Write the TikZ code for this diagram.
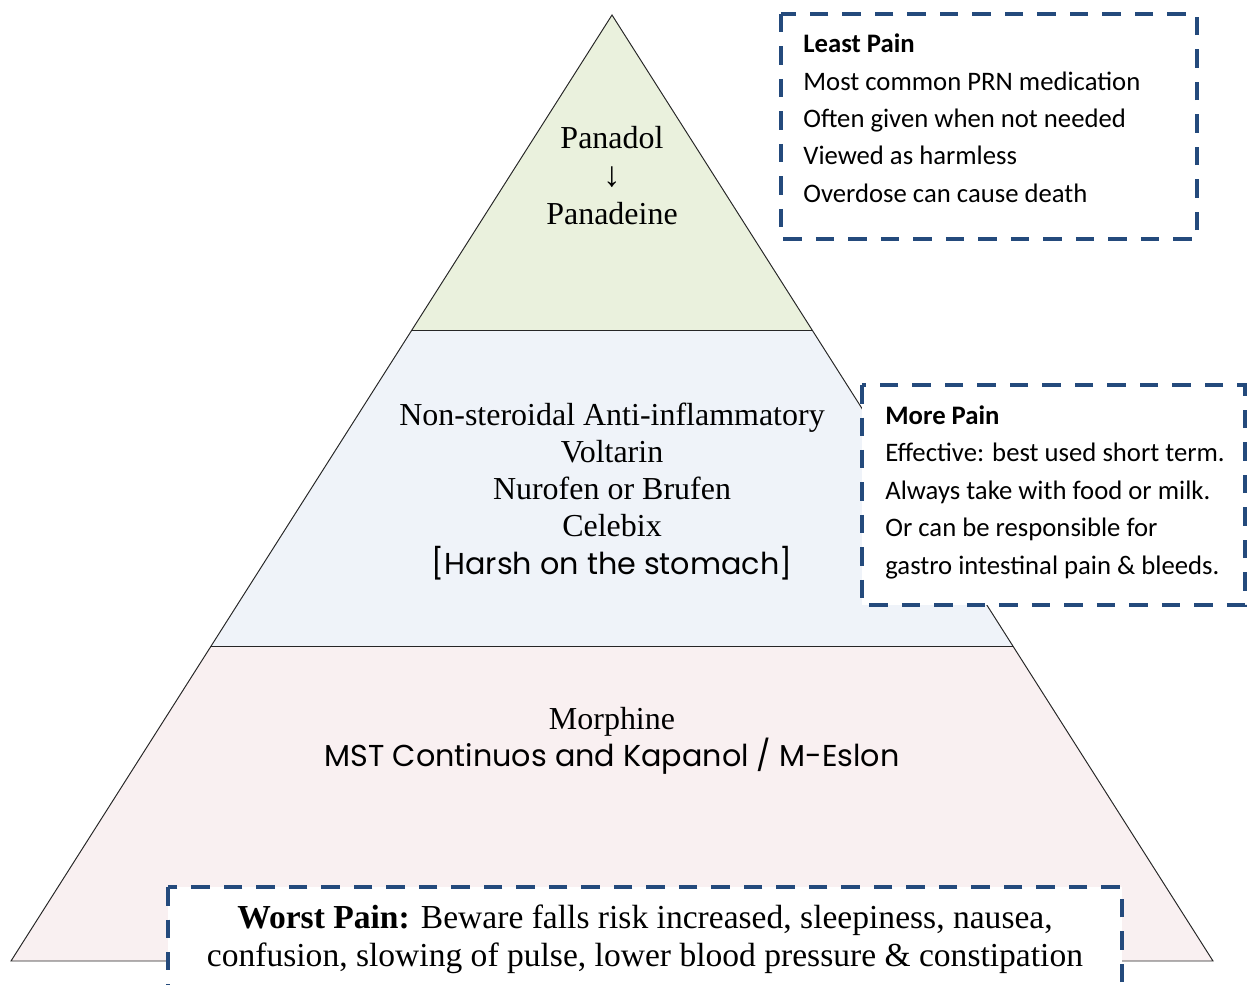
\documentclass[tikz,border=0pt]{standalone}
\usepackage{fontspec}
\setmainfont{Liberation Serif}
\newfontfamily\calibrifont{Carlito}
\newfontfamily\gothicfont{Poppins}
\definecolor{boxblue}{RGB}{36,74,124}
\definecolor{leastfill}{RGB}{234,241,221}
\definecolor{morefill}{RGB}{239,243,249}
\definecolor{worstfill}{RGB}{249,240,241}
\tikzset{
  edgeline/.style={line width=0.55pt, draw=black!85},
  painbox/.style={line width=2.2pt, draw=boxblue, fill=white, dash pattern=on 0.37cm off 0.28cm},
  drugtext/.style={anchor=mid, inner sep=0pt, font=\fontsize{18.2}{22}\selectfont},
  gothictext/.style={anchor=mid, inner sep=0pt, font=\gothicfont\fontsize{17.2}{21}\selectfont},
  notetext/.style={anchor=mid west, inner sep=0pt, font=\calibrifont\fontsize{15.2}{19}\selectfont},
  worsttext/.style={anchor=mid, inner sep=0pt, font=\fontsize{19.1}{23}\selectfont}
}
\begin{document}
\begin{tikzpicture}[x=0.02cm,y=-0.02cm]
                \useasboundingbox (0,0) rectangle (1247,984);
                \clip (0,0) rectangle (1247,984);

                % Corner points of the pyramid
                \coordinate (apex) at (612,15);
                \coordinate (upperleft) at (412,330);
                \coordinate (upperright) at (812,330);
                \coordinate (lowerleft) at (211,646);
                \coordinate (lowerright) at (1013,646);
                \coordinate (baseleft) at (11,961);
                \coordinate (baseright) at (1213,961);

                % Filling the three bands
                \fill [leastfill] (apex) -- (upperright) -- (upperleft) -- cycle;%
                \fill [morefill] (upperleft) -- (upperright) -- (lowerright) -- (lowerleft) -- cycle;%
                \fill [worstfill] (lowerleft) -- (lowerright) -- (baseright) -- (baseleft) -- cycle;%

                % Drawing the pyramid outline and band borders
                \draw [edgeline] (apex) -- (baseleft) -- (baseright) -- cycle;%
                \draw [edgeline] (upperleft) -- (upperright);%
                \draw [edgeline] (lowerleft) -- (lowerright);%

                % Drawing the dashed note boxes
                \draw [painbox] (781,14) rectangle (1197,239);%
                \draw [painbox] (862,385) rectangle (1245,605);%
                \draw [painbox] (168,887) rectangle (1122,1010);%

                % Top band: least pain
                \node [drugtext] (panadol) at (612,144) {Panadol};%
                \node [drugtext, font=\fontsize{20}{22}\selectfont] (downarrow) at (612,182) {↓};%
                \node [drugtext] (panadeine) at (612,220) {Panadeine};%

                % Middle band: more pain
                \node [drugtext] (nsaid) at (612,421) {Non-steroidal Anti-inflammatory};%
                \node [drugtext] (voltarin) at (612,458) {Voltarin};%
                \node [drugtext] (nurofen) at (612,495) {Nurofen or Brufen};%
                \node [drugtext] (celebix) at (612,532) {Celebix};%
                \node [gothictext] (harsh) at (612,570) {[Harsh on the stomach]};%

                % Bottom band: worst pain
                \node [drugtext] (morphine) at (612,725) {Morphine};%
                \node [gothictext] (mst) at (612,762) {MST Continuos and Kapanol / M-Eslon};%

                % Note on least pain
                \node [notetext] (leasthead) at (803,48) {\textbf{Least Pain}};%
                \node [notetext] (leastone) at (803,86) {Most common PRN medication};%
                \node [notetext] (leasttwo) at (803,123) {Often given when not needed};%
                \node [notetext] (leastthree) at (803,160) {Viewed as harmless};%
                \node [notetext] (leastfour) at (803,198) {Overdose can cause death};%

                % Note on more pain
                \node [notetext] (morehead) at (885,420) {\textbf{More Pain}};%
                \node [notetext] (moreone) at (885,457) {Effective: best used short term.};%
                \node [notetext] (moretwo) at (885,495) {Always take with food or milk.};%
                \node [notetext] (morethree) at (885,532) {Or can be responsible for};%
                \node [notetext] (morefour) at (885,570) {gastro intestinal pain \& bleeds.};%

                % Note on worst pain
                \node [worsttext] (worstone) at (645,924) {\textbf{Worst Pain:} Beware falls risk increased, sleepiness, nausea,};%
                \node [worsttext] (worsttwo) at (645,962) {confusion, slowing of pulse, lower blood pressure \& constipation};%
            \end{tikzpicture}
\end{document}
